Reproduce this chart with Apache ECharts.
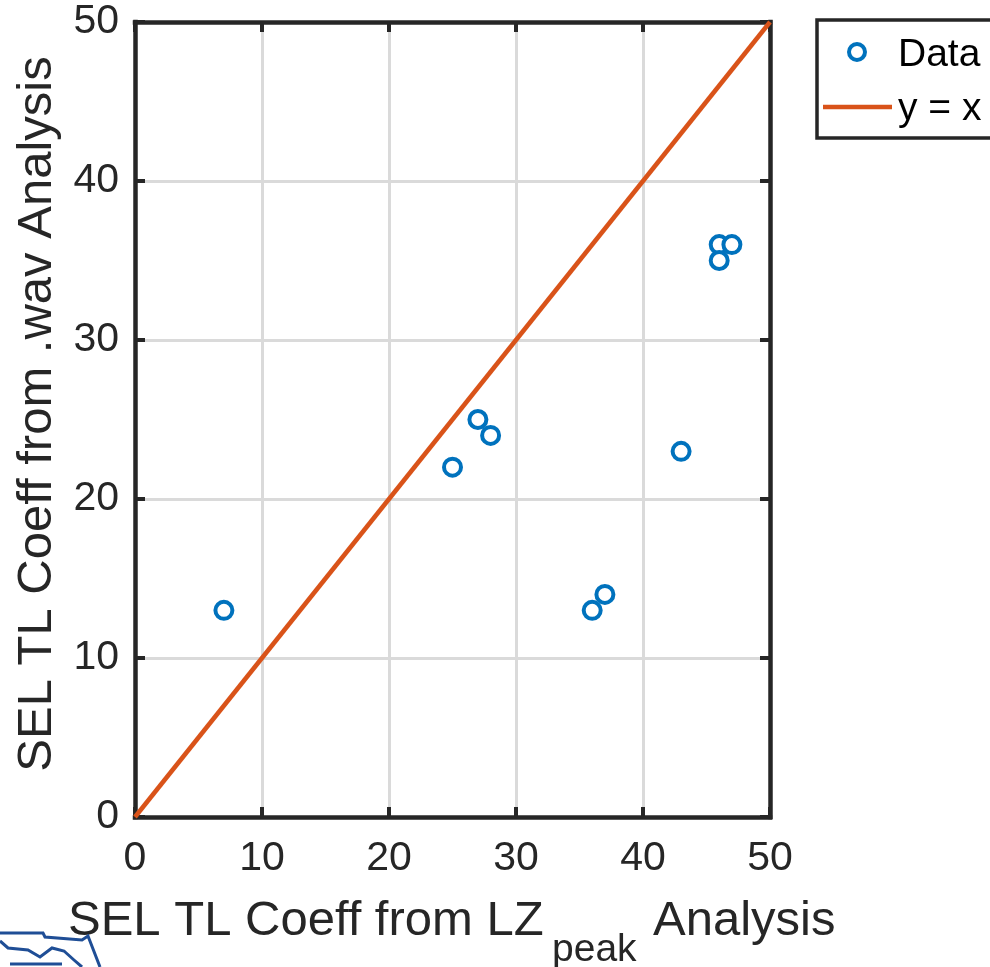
<!DOCTYPE html>
<html>
<head>
<meta charset="utf-8">
<script src="https://cdn.jsdelivr.net/npm/echarts@6/dist/echarts.min.js"></script>
<style>
html,body{margin:0;padding:0;background:#fff;}
#chart{width:990px;height:967px;}
</style>
</head>
<body>
<div id="chart"></div>
<script>
// Data
var xValues = [7, 25, 27, 28, 36, 37, 43, 46, 46, 47];
var yValues = [13, 22, 25, 24, 13, 14, 23, 36, 35, 36];
var refLineX = [0, 50];
var refLineY = [0, 50];
var axisMin = 0, axisMax = 50, axisInterval = 10;
var seriesNames = ['Data', 'y = x'];
var xTitleMain = 'SEL TL Coeff from LZ';
var xTitleSub = 'peak';
var xTitleEnd = 'Analysis';
var yTitle = 'SEL TL Coeff from .wav Analysis';

var FONT = '"Liberation Sans", Arial, Helvetica, sans-serif';
var AX = '#262626';
var BLUE = '#0072BD';
var ORANGE = '#D95319';

var scatterData = xValues.map(function (x, i) { return [x, yValues[i]]; });
var lineData = refLineX.map(function (x, i) { return [x, refLineY[i]]; });

function mkAxis(pos, primary) {
  return {
    type: 'value', position: pos, min: axisMin, max: axisMax, interval: axisInterval,
    axisLine: { show: true, onZero: false, lineStyle: { color: AX, width: 4.5, cap: 'square' } },
    axisTick: { show: true, inside: true, length: 10, lineStyle: { color: AX, width: 4 } },
    axisLabel: primary ? { show: true, color: AX, fontSize: 41, fontFamily: FONT, margin: pos === 'bottom' ? 21 : 16 } : { show: false },
    splitLine: primary ? { show: true, lineStyle: { color: '#dadada', width: 3 } } : { show: false },
    z: 1
  };
}

var chart = echarts.init(document.getElementById('chart'), null, { renderer: 'canvas' });
chart.setOption({
  backgroundColor: '#fff',
  animation: false,
  grid: { left: 135, top: 22, right: 220, bottom: 150, containLabel: false },
  xAxis: [mkAxis('bottom', true), mkAxis('top', false)],
  yAxis: [mkAxis('left', true), mkAxis('right', false)],
  series: [
    {
      name: seriesNames[1], type: 'line', data: lineData, showSymbol: false, symbol: 'none',
      lineStyle: { color: ORANGE, width: 4.5 }, z: 5, clip: true
    },
    {
      name: seriesNames[0], type: 'scatter', data: scatterData, symbol: 'circle', symbolSize: 17,
      itemStyle: { color: '#fff', borderColor: BLUE, borderWidth: 4, opacity: 1 }, z: 6
    }
  ],
  graphic: [
    // y-axis title
    { type: 'text', x: 37, y: 414, rotation: Math.PI / 2,
      style: { text: yTitle, font: '49px ' + FONT, fill: AX, align: 'center', verticalAlign: 'middle' } },
    // x-axis title with subscript
    { type: 'text', x: 68, y: 921,
      style: { text: xTitleMain, font: '49px ' + FONT, fill: AX, align: 'left', verticalAlign: 'middle' } },
    { type: 'text', x: 552, y: 950,
      style: { text: xTitleSub, font: '39px ' + FONT, fill: AX, align: 'left', verticalAlign: 'middle' } },
    { type: 'text', x: 653, y: 921,
      style: { text: xTitleEnd, font: '49px ' + FONT, fill: AX, align: 'left', verticalAlign: 'middle' } },
    // legend
    { type: 'rect', shape: { x: 817, y: 20, width: 200, height: 118 },
      style: { fill: '#fff', stroke: AX, lineWidth: 3.5 }, z: 10 },
    { type: 'circle', shape: { cx: 857, cy: 52, r: 8 },
      style: { fill: '#fff', stroke: BLUE, lineWidth: 4 }, z: 11 },
    { type: 'text', x: 898, y: 55,
      style: { text: seriesNames[0], font: '39px ' + FONT, fill: '#000', align: 'left', verticalAlign: 'middle' }, z: 11 },
    { type: 'line', shape: { x1: 823, y1: 107, x2: 892, y2: 107 },
      style: { stroke: ORANGE, lineWidth: 4.5 }, z: 11 },
    { type: 'text', x: 898, y: 109,
      style: { text: seriesNames[1], font: '39px ' + FONT, fill: '#000', align: 'left', verticalAlign: 'middle' }, z: 11 },
    // partial logo at bottom-left
    { type: 'polyline', shape: { points: [[0, 933], [43, 933], [45, 937], [82, 940], [88, 936], [100, 967]] },
      style: { stroke: '#1f4e96', lineWidth: 3, fill: null }, z: 1 },
    { type: 'polyline', shape: { points: [[0, 941], [8, 948], [28, 950], [40, 957], [52, 948], [64, 951], [74, 960], [82, 967]] },
      style: { stroke: '#1f4e96', lineWidth: 3, fill: null }, z: 1 },
    { type: 'line', shape: { x1: 10, y1: 964, x2: 62, y2: 964 },
      style: { stroke: '#1f4e96', lineWidth: 3 }, z: 1 }
  ]
});
</script>
</body>
</html>
